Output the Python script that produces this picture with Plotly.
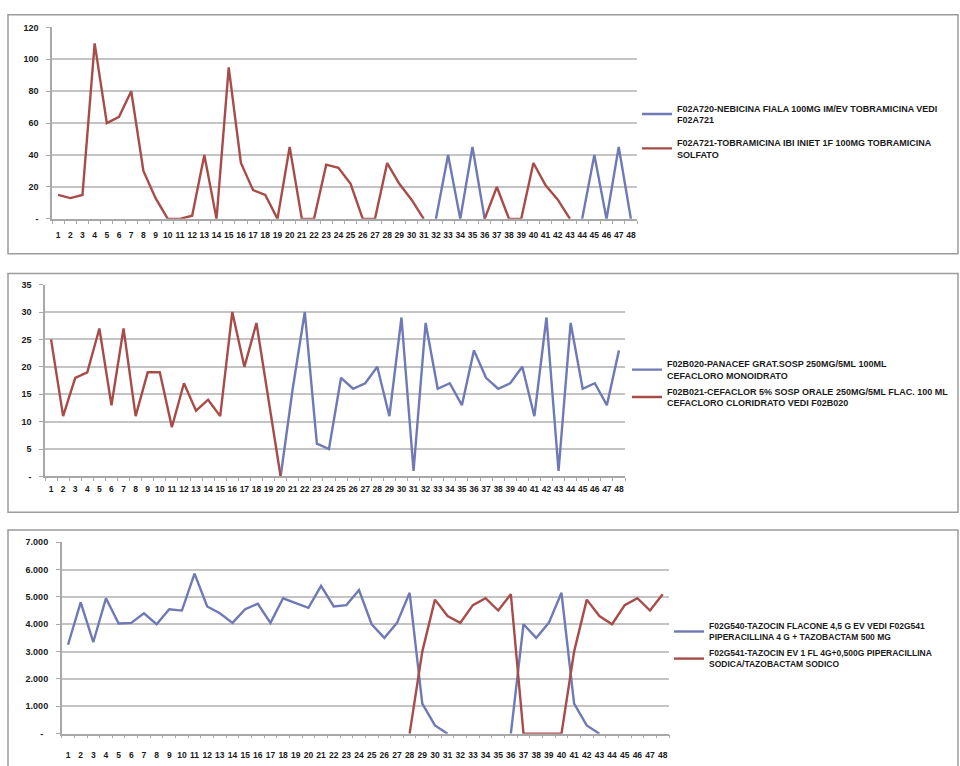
import plotly.graph_objects as go

W, H = 960, 766

categories = list(range(1, 49))
cat_labels = [str(c) for c in categories]

# --- panel 1: tobramicina ---
p1_blue_name = "F02A720-NEBICINA FIALA 100MG IM/EV TOBRAMICINA VEDI<br>F02A721"
p1_red_name = "F02A721-TOBRAMICINA IBI INIET 1F 100MG TOBRAMICINA<br>SOLFATO"
p1_blue = [None] * 31 + [0, 40, 0, 45, 0] + [None] * 7 + [0, 40, 0, 45, 0]
p1_red = [15, 13, 15, 110, 60, 64, 80, 30, 13, 0, 0, 2, 40, 0, 95, 35, 18, 15, 0, 45,
          0, 0, 34, 32, 22, 0, 0, 35, 22, 12, 0,
          None, None, None, None,
          0, 20, 0, 0, 35, 21, 12, 0,
          None, None, None, None, None]
p1_yticks = [0, 20, 40, 60, 80, 100, 120]
p1_ytext = ["-", "20", "40", "60", "80", "100", "120"]

# --- panel 2: cefacloro ---
p2_blue_name = "F02B020-PANACEF GRAT.SOSP 250MG/5ML 100ML<br>CEFACLORO MONOIDRATO"
p2_red_name = "F02B021-CEFACLOR 5% SOSP ORALE 250MG/5ML FLAC. 100 ML<br>CEFACLORO CLORIDRATO VEDI F02B020"
p2_blue = [None] * 19 + [0, 16, 30, 6, 5, 18, 16, 17, 20, 11, 29, 1, 28, 16, 17, 13, 23,
                         18, 16, 17, 20, 11, 29, 1, 28, 16, 17, 13, 23]
p2_red = [25, 11, 18, 19, 27, 13, 27, 11, 19, 19, 9, 17, 12, 14, 11, 30, 20, 28, 14, 0] + [None] * 28
p2_yticks = [0, 5, 10, 15, 20, 25, 30, 35]
p2_ytext = ["-", "5", "10", "15", "20", "25", "30", "35"]

# --- panel 3: tazocin ---
p3_blue_name = "F02G540-TAZOCIN FLACONE 4,5 G EV VEDI F02G541<br>PIPERACILLINA 4 G + TAZOBACTAM 500 MG"
p3_red_name = "F02G541-TAZOCIN EV 1 FL 4G+0,500G PIPERACILLINA<br>SODICA/TAZOBACTAM SODICO"
p3_blue = [3250, 4800, 3350, 4950, 4030, 4050, 4400, 4000, 4550, 4500, 5850, 4650, 4400, 4050,
           4550, 4750, 4050, 4950, 4770, 4600, 5400, 4650, 4700, 5250, 4000, 3500, 4050, 5150,
           1100, 300, 0,
           None, None, None, None,
           0, 4000, 3500, 4050, 5150, 1100, 300, 0,
           None, None, None, None, None]
p3_red = [None] * 27 + [0, 3000, 4900, 4300, 4050, 4700, 4950, 4500, 5100,
                        0, 0, 0, 0, 3000, 4900, 4300, 4000, 4700, 4950, 4500, 5100]
p3_yticks = [0, 1000, 2000, 3000, 4000, 5000, 6000, 7000]
p3_ytext = ["-\u00a0\u00a0", "1.000", "2.000", "3.000", "4.000", "5.000", "6.000", "7.000"]

BLUE = "#6e79b5"
RED = "#a84c4a"
GRID = "#c4c4c4"
AXIS = "#a8a8a8"
TXT = "#1a1a1a"
BORDER = "#9c9c9c"


def px_x(v):
    return v / W


def px_y(v):
    return 1 - v / H


fig = go.Figure()

panels = [
    # axes, series, names, legend id, x span px, y px (zero, top), ymax, y ticks, x label standoff
    ("x", "y", p1_blue, p1_red, (p1_blue_name, p1_red_name), "legend",
     (52, 637), (216.7, 22.7), 120, p1_yticks, p1_ytext, 7),
    ("x2", "y2", p2_blue, p2_red, (p2_blue_name, p2_red_name), "legend2",
     (45, 625), (477.7, 283.3), 35, p2_yticks, p2_ytext, 4),
    ("x3", "y3", p3_blue, p3_red, (p3_blue_name, p3_red_name), "legend3",
     (61.7, 669), (738.3, 544.3), 7000, p3_yticks, p3_ytext, 12),
]

# legend box: left edge px, top px, font size, gap between entries
legend_pos = {
    "legend": (637, 92, 9, 8),
    "legend2": (627, 351, 9, 1),
    "legend3": (669, 617, 8.5, 2),
}

layout_axes = {}
for xa, ya, blue, red, names, lg, xd, yd, ymax, yt, ytt, xstand in panels:
    fig.add_trace(go.Scatter(x=categories, y=blue, mode="lines", name=names[0],
                             line=dict(color=BLUE, width=2.4), connectgaps=False,
                             xaxis=xa, yaxis=ya, legend=lg, legendgroup=lg + "a"))
    fig.add_trace(go.Scatter(x=categories, y=red, mode="lines", name=names[1],
                             line=dict(color=RED, width=2.4), connectgaps=False,
                             xaxis=xa, yaxis=ya, legend=lg, legendgroup=lg + "b"))
    xkey = "xaxis" if xa == "x" else "xaxis" + xa[1:]
    ykey = "yaxis" if ya == "y" else "yaxis" + ya[1:]
    layout_axes[xkey] = dict(
        domain=[px_x(xd[0]), px_x(xd[1])], anchor=ya, range=[0.5, 48.5],
        tickmode="array", tickvals=categories, ticktext=cat_labels, tickangle=0,
        showgrid=False, zeroline=False, showline=True, linecolor=AXIS, linewidth=1.5,
        ticks="", ticklabelstandoff=xstand,
        minor=dict(tickmode="array", tickvals=[c + 0.5 for c in range(0, 49)],
                   ticks="outside", ticklen=3, tickcolor=AXIS, showgrid=False),
        tickfont=dict(family="Liberation Sans", size=8.5, color=TXT, weight="bold"),
        fixedrange=True,
    )
    layout_axes[ykey] = dict(
        domain=[px_y(yd[0]), px_y(yd[1])], anchor=xa, range=[0, ymax],
        tickmode="array", tickvals=yt, ticktext=ytt,
        showgrid=True, gridcolor=GRID, gridwidth=1.5, zeroline=False,
        showline=True, linecolor=AXIS, linewidth=1.5,
        ticks="outside", ticklen=4, tickcolor=AXIS, ticklabelstandoff=6,
        tickfont=dict(family="Liberation Sans", size=9, color=TXT, weight="bold"),
        fixedrange=True,
    )

legend_style = {}
for lg, (lx, ly, fs, gap) in legend_pos.items():
    legend_style[lg] = dict(
        x=px_x(lx), y=px_y(ly), xanchor="left", yanchor="top",
        bgcolor="rgba(0,0,0,0)", borderwidth=0, tracegroupgap=gap,
        font=dict(family="Liberation Sans", size=fs, color=TXT, weight="bold"),
    )

# panel frames
frames = [(8, 10, 958, 252), (8, 272, 958, 514), (8, 532, 958, 790)]
shapes = [dict(type="rect", xref="paper", yref="paper",
               x0=px_x(a), x1=px_x(c), y0=px_y(d), y1=px_y(b),
               line=dict(color=BORDER, width=1.5), fillcolor="rgba(0,0,0,0)", layer="below")
          for a, b, c, d in frames]

fig.update_layout(
    width=W, height=H, margin=dict(l=0, r=0, t=0, b=0),
    paper_bgcolor="white", plot_bgcolor="white",
    shapes=shapes, showlegend=True,
    **layout_axes, **legend_style,
)

fig.write_html("out.html")
